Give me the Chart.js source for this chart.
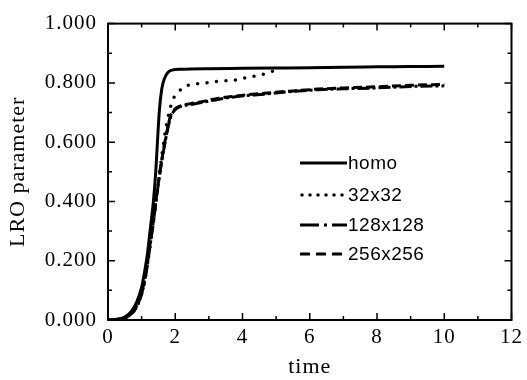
<!DOCTYPE html>
<html>
<head>
<meta charset="utf-8">
<script src="https://cdn.jsdelivr.net/npm/chart.js@4/dist/chart.umd.min.js"></script>
<style>
html,body{margin:0;padding:0;background:#fff;}
#wrap{width:527px;height:380px;position:relative;}
</style>
</head>
<body>
<div id="wrap"><canvas id="c" width="527" height="380"></canvas></div>
<script>
// ---- data ----
const seriesNames = ["homo", "32x32", "128x128", "256x256"];
const homoT = [0, 0.3, 0.5, 0.7, 0.85, 1.0, 1.1, 1.18, 1.25, 1.35, 1.42, 1.48, 1.53, 1.6, 1.68, 1.78, 1.9, 2.2, 3, 4, 5, 6, 7, 8, 9, 10];
const homoV = [0, 0.003, 0.01, 0.03, 0.06, 0.11, 0.17, 0.23, 0.30, 0.40, 0.50, 0.62, 0.71, 0.78, 0.815, 0.835, 0.843, 0.846, 0.848, 0.849, 0.85, 0.851, 0.853, 0.854, 0.855, 0.856];
const s32T = [0, 0.4, 0.6, 0.8, 0.95, 1.05, 1.15, 1.25, 1.35, 1.45, 1.55, 1.62, 1.74, 1.92, 2.06, 2.33, 2.56, 2.9, 3.22, 3.5, 3.8, 4.07, 4.37, 4.65, 4.92, 5.1];
const s32V = [0, 0.004, 0.012, 0.035, 0.07, 0.11, 0.17, 0.25, 0.33, 0.42, 0.51, 0.57, 0.66, 0.74, 0.765, 0.79, 0.795, 0.80, 0.805, 0.807, 0.81, 0.817, 0.823, 0.83, 0.84, 0.846];
const s128T = [0, 0.4, 0.6, 0.8, 0.95, 1.05, 1.15, 1.25, 1.35, 1.45, 1.55, 1.65, 1.75, 1.85, 1.96, 2.15, 2.45, 2.7, 3.3, 3.9, 4.65, 5.4, 6.25, 7, 8, 9, 10];
const s128V = [0, 0.004, 0.012, 0.035, 0.07, 0.11, 0.17, 0.25, 0.33, 0.42, 0.50, 0.57, 0.63, 0.68, 0.705, 0.72, 0.727, 0.732, 0.745, 0.755, 0.762, 0.77, 0.777, 0.78, 0.783, 0.788, 0.79];
const s256T = [0, 0.4, 0.6, 0.8, 0.95, 1.05, 1.15, 1.25, 1.35, 1.45, 1.55, 1.65, 1.75, 1.85, 1.96, 2.15, 2.45, 2.7, 3.3, 3.9, 4.65, 5.4, 6.25, 7, 8, 9, 10];
const s256V = [0, 0.004, 0.013, 0.037, 0.072, 0.115, 0.175, 0.255, 0.335, 0.425, 0.505, 0.575, 0.635, 0.685, 0.708, 0.722, 0.73, 0.735, 0.748, 0.757, 0.765, 0.772, 0.779, 0.783, 0.787, 0.792, 0.795];
const xMajorTicks = [0, 2, 4, 6, 8, 10, 12];
const yMajorTicks = [0, 0.2, 0.4, 0.6, 0.8, 1.0];
const xTitle = "time";
const yTitle = "LRO parameter";

const pts = (T, V) => T.map((t, i) => ({x: t, y: V[i]}));

const serif = "'Liberation Serif', 'Times New Roman', serif";
const sans = "'Liberation Sans', Arial, sans-serif";

const AREA = {left: 108, right: 512, top: 15, bottom: 320};

const framePlugin = {
  id: 'frame',
  beforeDraw(chart) {
    chart.ctx.letterSpacing = '1px';
  },
  afterDatasetsDraw(chart) {
    const {ctx, chartArea: a, scales} = chart;
    ctx.save();
    ctx.strokeStyle = '#000';
    ctx.lineWidth = 2;
    ctx.strokeRect(a.left, a.top, a.right - a.left, a.bottom - a.top);
    ctx.lineWidth = 1.5;
    for (let v = 0; v <= 12; v += 1) {
      const px = scales.x.getPixelForValue(v);
      const len = (v % 2 === 0) ? 7 : 4;
      ctx.beginPath();
      ctx.moveTo(px, a.bottom); ctx.lineTo(px, a.bottom - len);
      ctx.moveTo(px, a.top); ctx.lineTo(px, a.top + len);
      ctx.stroke();
    }
    for (let i = 0; i <= 10; i++) {
      const v = i / 10;
      const py = scales.y.getPixelForValue(v);
      const len = (i % 2 === 0) ? 7 : 4;
      ctx.beginPath();
      ctx.moveTo(a.left, py); ctx.lineTo(a.left + len, py);
      ctx.moveTo(a.right, py); ctx.lineTo(a.right - len, py);
      ctx.stroke();
    }
    ctx.restore();
  },
  afterDraw(chart) {
    const {ctx} = chart;
    const rows = [163, 195, 225, 254];
    ctx.save();
    ctx.letterSpacing = '0.5px';
    chart.data.datasets.forEach((ds, i) => {
      const y = rows[i];
      ctx.strokeStyle = '#000';
      ctx.lineWidth = ds.borderWidth;
      ctx.lineCap = ds.borderCapStyle || 'butt';
      ctx.setLineDash(ds.legendDash || []);
      ctx.beginPath();
      ctx.moveTo(ds.legendStart || 300, y);
      ctx.lineTo(347, y);
      ctx.stroke();
      ctx.setLineDash([]);
      ctx.fillStyle = '#000';
      ctx.font = "19px " + sans;
      ctx.textBaseline = 'middle';
      ctx.textAlign = 'left';
      ctx.fillText(ds.label, 348, y + 1);
    });
    ctx.restore();
  }
};

new Chart(document.getElementById('c'), {
  type: 'line',
  data: {
    datasets: [
      {label: seriesNames[0], data: pts(homoT, homoV), borderColor: '#000', borderWidth: 3, pointRadius: 0, cubicInterpolationMode: 'monotone', legendDash: []},
      {label: seriesNames[1], data: pts(s32T, s32V), borderColor: '#000', borderWidth: 3.5, borderDash: [0, 9.5], borderCapStyle: 'round', pointRadius: 0, cubicInterpolationMode: 'monotone', legendDash: [0, 8], legendStart: 302},
      {label: seriesNames[2], data: pts(s128T, s128V), borderColor: '#000', borderWidth: 3, borderDash: [12, 3, 3, 3], pointRadius: 0, cubicInterpolationMode: 'monotone', legendDash: [19, 5, 3, 5]},
      {label: seriesNames[3], data: pts(s256T, s256V), borderColor: '#000', borderWidth: 3, borderDash: [9, 4], pointRadius: 0, cubicInterpolationMode: 'monotone', legendDash: [10, 6]}
    ]
  },
  options: {
    responsive: false,
    animation: false,
    devicePixelRatio: 1,
    layout: {padding: {left: 0, right: 527 - AREA.right, top: AREA.top, bottom: 0}},
    plugins: {legend: {display: false}, tooltip: {enabled: false}},
    scales: {
      x: {
        type: 'linear', min: 0, max: 12,
        afterBuildTicks(s) { s.ticks = xMajorTicks.map(v => ({value: v})); },
        afterFit(s) { s.height = 380 - AREA.bottom; },
        grid: {display: false, drawTicks: false},
        border: {display: false},
        ticks: {color: '#000', font: {family: serif, size: 21}, padding: 5, maxRotation: 0, autoSkip: false,
                callback: v => String(v)},
        title: {display: true, text: xTitle, color: '#000', font: {family: serif, size: 22, lineHeight: 1.2}, padding: {top: 0, bottom: 0}}
      },
      y: {
        type: 'linear', min: 0, max: 1,
        afterBuildTicks(s) { s.ticks = yMajorTicks.map(v => ({value: v})); },
        afterFit(s) { s.width = AREA.left; },
        grid: {display: false, drawTicks: false},
        border: {display: false},
        ticks: {color: '#000', font: {family: serif, size: 21}, padding: 11, autoSkip: false,
                callback: v => Number(v).toFixed(3)},
        title: {display: true, text: yTitle, color: '#000', font: {family: serif, size: 22, lineHeight: 1.2}, padding: {top: 5, bottom: 0}}
      }
    }
  },
  plugins: [framePlugin]
});
</script>
</body>
</html>
